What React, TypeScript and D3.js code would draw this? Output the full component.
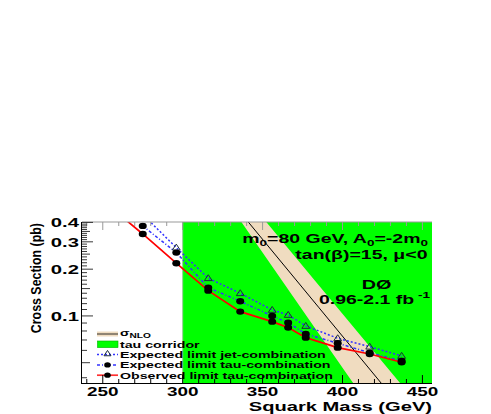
import React from 'react';
import * as d3 from 'd3';

// ---- data ----
const massObs = [255, 275, 296, 316, 336, 356, 366, 377, 397, 417, 437];
const observedTau = [0.5, 0.337, 0.2185, 0.1455, 0.1066, 0.0919, 0.0841, 0.0725, 0.0625, 0.0569, 0.0503];
const massExp = [275, 296, 316, 336, 356, 366, 377, 397, 417, 437];
const expectedTau = [0.38, 0.2557, 0.1521, 0.1243, 0.1, 0.0905, 0.0766, 0.0667, 0.058, 0.0513];
const expectedJet = [0.45, 0.2753, 0.1749, 0.14, 0.1093, 0.1015, 0.0862, 0.0718, 0.0634, 0.0553];
const sigmaMass = [330, 385, 440];
const sigmaNLO = [0.5526, 0.1139, 0.02346];
const sigmaLow = [0.5063, 0.0775, 0.01184];
const sigmaHigh = [0.76, 0.1584, 0.033];
const corridorMass = [300, 456];
const xTickLabels = [250, 300, 350, 400, 450];
const yTickLabels = [0.1, 0.2, 0.3, 0.4];
const legendLabels = ['tau corridor', 'Expected limit jet-combination', 'Expected limit tau-combination', 'Observed limit tau-combination'];

const W = 491, H = 414;
const L = 82, R = 432, T = 222, B = 383;
const FONT = '"Liberation Sans", Arial, Helvetica, sans-serif';
const TAN = '#f0dcc0';
const GREEN = '#00ff00';
const BLUE = '#3333ff';

const x = d3.scaleLinear().domain([237, 456]).range([L, R]);
const y = d3.scaleLog().domain([0.037, 0.4025]).range([B, T]);

function ST({ x: px, y: py, s, size, anchor = 'start', children }: any) {
  return (
    <g transform={`translate(${px},${py}) scale(${s},1)`}>
      <text textAnchor={anchor} fontSize={size} fontFamily={FONT} fontWeight="bold" fill="#000">{children}</text>
    </g>
  );
}

function Tri({ cx, cy, r = 1 }: any) {
  return <path d={`M${cx},${cy - 3.5 * r} L${cx + 3.9 * r},${cy + 2.4 * r} L${cx - 3.9 * r},${cy + 2.4 * r} Z`} fill="none" stroke="#1c2c3c" strokeWidth={1} />;
}

export default function App() {
  const line = d3.line<[number, number]>().x(d => x(d[0])).y(d => y(d[1]));
  const obsPts = massObs.map((m, i) => [m, observedTau[i]] as [number, number]);
  const tauPts = massExp.map((m, i) => [m, expectedTau[i]] as [number, number]);
  const jetPts = massExp.map((m, i) => [m, expectedJet[i]] as [number, number]);
  const band = d3.area<number>().x((_, i) => x(sigmaMass[i])).y0((_, i) => y(sigmaLow[i])).y1((_, i) => y(sigmaHigh[i]));
  const central = sigmaMass.map((m, i) => [m, sigmaNLO[i]] as [number, number]);

  const xTicks = d3.range(240, 456, 10);
  const yTicks = d3.range(4, 41).map(v => v / 100);

  const legY = [334, 344.3, 354.6, 364.9, 375.2];
  const lx0 = 97, lx1 = 118, lxc = 107.5, ltx = 120;

  return (
    <svg width={W} height={H} style={{ position: 'absolute', left: 0, top: 0, background: '#fff' }}>
      <defs>
        <clipPath id="plot"><rect x={L} y={T} width={R - L} height={B - T} /></clipPath>
      </defs>
      <g clipPath="url(#plot)">
        <rect x={x(corridorMass[0])} y={T} width={x(corridorMass[1]) - x(corridorMass[0])} height={B - T} fill={GREEN} />
        <line x1={x(corridorMass[0])} x2={x(corridorMass[0])} y1={T} y2={B} stroke="#9c9" strokeWidth={1} />
        <path d={band(sigmaMass) || ''} fill={TAN} />
        <path d={line(central) || ''} fill="none" stroke="#000" strokeWidth={1} />
        <path d={line(jetPts) || ''} fill="none" stroke={BLUE} strokeWidth={1.5} strokeDasharray="2,2" />
        <path d={line(tauPts) || ''} fill="none" stroke={BLUE} strokeWidth={1.5} strokeDasharray="3,2,1,2" />
        <path d={line(obsPts) || ''} fill="none" stroke="#ff0000" strokeWidth={1.7} />
        {jetPts.map((d, i) => <Tri key={'j' + i} cx={x(d[0])} cy={y(d[1])} />)}
        {tauPts.map((d, i) => <ellipse key={'t' + i} cx={x(d[0])} cy={y(d[1])} rx={4} ry={3.2} fill="#000" />)}
        {obsPts.map((d, i) => <ellipse key={'o' + i} cx={x(d[0])} cy={y(d[1])} rx={4} ry={3.2} fill="#000" />)}
      </g>

      {/* legend */}
      <rect x={lx0} y={legY[0] - 2.5} width={lx1 - lx0} height={5} fill={TAN} />
      <line x1={lx0} x2={lx1} y1={legY[0]} y2={legY[0]} stroke="#000" strokeWidth={0.8} />
      <rect x={lx0 + 0.5} y={legY[1] - 3.3} width={lx1 - lx0 - 0.5} height={6.6} fill={GREEN} stroke="#00b000" strokeWidth={0.6} />
      <line x1={lx0} x2={lx1} y1={legY[2]} y2={legY[2]} stroke={BLUE} strokeWidth={1.5} strokeDasharray="2,2" />
      <Tri cx={lxc} cy={legY[2] - 1} r={0.9} />
      <line x1={lx0} x2={lx1} y1={legY[3]} y2={legY[3]} stroke={BLUE} strokeWidth={1.5} strokeDasharray="3,2,1,2" />
      <ellipse cx={lxc} cy={legY[3]} rx={3.3} ry={2.6} fill="#000" />
      <line x1={lx0} x2={lx1} y1={legY[4]} y2={legY[4]} stroke="#ff3030" strokeWidth={1.7} />
      <ellipse cx={lxc} cy={legY[4]} rx={3.3} ry={2.6} fill="#000" />
      <ST x={ltx} y={legY[0] + 1.5} s={1.45} size={9.6}>σ<tspan fontSize={7} dy={2.5}>NLO</tspan></ST>
      {legendLabels.map((t, i) => (
        <ST key={t} x={ltx} y={legY[i + 1] + 3.3} s={1.48} size={9.6}>{t}</ST>
      ))}

      {/* in-plot texts */}
      <ST x={428} y={243} s={1.5} size={13} anchor="end">m<tspan fontSize={9} dy={2.5}>0</tspan><tspan dy={-2.5}>=80 GeV, A</tspan><tspan fontSize={9} dy={2.5}>0</tspan><tspan dy={-2.5}>=-2m</tspan><tspan fontSize={9} dy={2.5}>0</tspan></ST>
      <ST x={427.5} y={258.5} s={1.5} size={13} anchor="end">tan(β)=15, μ&lt;0</ST>
      <ST x={376.5} y={288.5} s={1.48} size={13.4} anchor="middle">DØ</ST>
      <ST x={430} y={303.5} s={1.5} size={13} anchor="end">0.96-2.1 fb<tspan fontSize={9} dy={-6}> -1</tspan></ST>

      {/* axes */}
      <line x1={L} x2={R} y1={T} y2={T} stroke="#999" strokeWidth={1} />
      {xTicks.map(v => (
        <line key={'tt' + v} x1={x(v)} x2={x(v)} y1={T} y2={T + (v % 50 === 0 ? 8 : 4)} stroke="#999" strokeWidth={1} />
      ))}
      <line x1={L} x2={R} y1={B + 0.5} y2={B + 0.5} stroke="#000" strokeWidth={1} />
      {xTicks.map(v => (
        <line key={'bt' + v} x1={x(v)} x2={x(v)} y1={B} y2={B - (v % 50 === 0 ? 8 : 4)} stroke="#000" strokeWidth={1} />
      ))}
      <line x1={L - 0.5} x2={L - 0.5} y1={T} y2={B + 1} stroke="#000" strokeWidth={1} />
      {yTicks.map(v => {
        const k = Math.round(v * 100);
        const len = k % 10 === 0 ? 11 : k % 5 === 0 ? 8 : 5;
        return <line key={'yt' + k} x1={L} x2={L + len} y1={y(v)} y2={y(v)} stroke="#222" strokeWidth={0.9} />;
      })}
      {xTickLabels.map(v => (
        <ST key={'xl' + v} x={x(v)} y={395.5} s={1.5} size={12.6} anchor="middle">{v}</ST>
      ))}
      {yTickLabels.map(v => (
        <ST key={'yl' + v} x={79} y={y(v) + 5} s={1.5} size={13.5} anchor="end">{v}</ST>
      ))}
      <ST x={432} y={410.5} s={1.48} size={13.6} anchor="end">Squark Mass (GeV)</ST>
      <g transform={`translate(41,${T + 1}) rotate(-90) scale(0.886,1)`}>
        <text textAnchor="end" fontSize={14} fontFamily={FONT} fontWeight="bold">Cross Section (pb)</text>
      </g>
    </svg>
  );
}
